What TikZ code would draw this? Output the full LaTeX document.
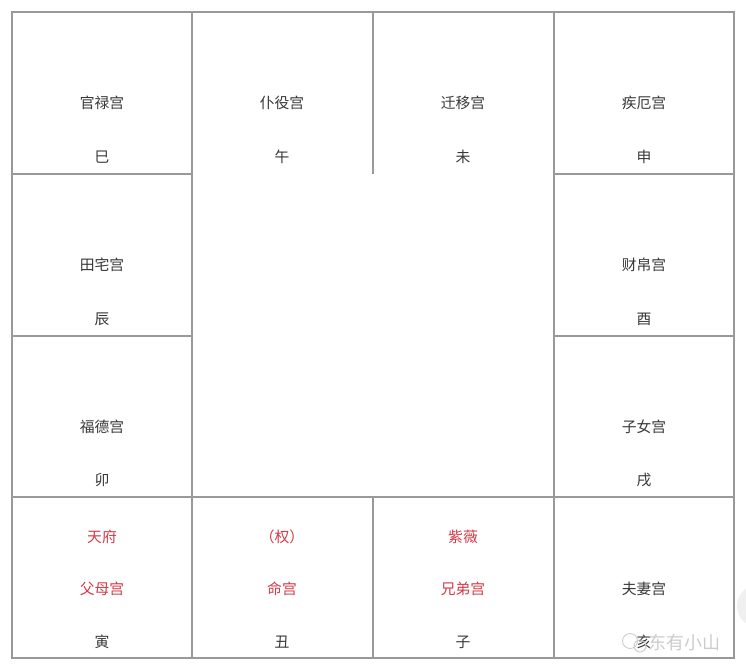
\documentclass[tikz,border=0pt]{standalone}
\usepackage{fontspec}
\setmainfont{Noto Sans CJK SC}
\definecolor{softred}{HTML}{D23A46}
\begin{document}
\begin{tikzpicture}[x=1pt,y=-1pt,
  gridline/.style={draw=black!40,line width=1.1pt},
  lbl/.style={font=\fontsize{14.8}{17}\selectfont,text=black!78,inner sep=0pt},
  redlbl/.style={lbl,text=softred},
  wm/.style={font=\fontsize{18}{20}\selectfont,text=black!20,inner sep=0pt}]
\useasboundingbox (0,0) rectangle (746,667);
\fill[white] (0,0) rectangle (746,667);
\begin{scope}
\clip (0,0) rectangle (746,667);
\fill[black!6] (758,606) circle (21);
\end{scope}
% grid
\draw[gridline] (12,12) rectangle (734,658);
\draw[gridline] (192,12) -- (192,174);
\draw[gridline] (373,12) -- (373,174);
\draw[gridline] (554,12) -- (554,658);
\draw[gridline] (192,174) -- (192,658);
\draw[gridline] (373,497) -- (373,658);
\draw[gridline] (12,174) -- (192,174);
\draw[gridline] (554,174) -- (734,174);
\draw[gridline] (12,336) -- (192,336);
\draw[gridline] (554,336) -- (734,336);
\draw[gridline] (12,497) -- (734,497);
% top row
\node[lbl] (p1) at (102,103) {官禄宫};
\node[lbl] (b1) at (102,157) {巳};
\node[lbl] (p2) at (282,103) {仆役宫};
\node[lbl] (b2) at (282,157) {午};
\node[lbl] (p3) at (463,103) {迁移宫};
\node[lbl] (b3) at (463,157) {未};
\node[lbl] (p4) at (644,103) {疾厄宫};
\node[lbl] (b4) at (644,157) {申};
% side rows
\node[lbl] (p5) at (102,265) {田宅宫};
\node[lbl] (b5) at (102,319) {辰};
\node[lbl] (p6) at (644,265) {财帛宫};
\node[lbl] (b6) at (644,319) {酉};
\node[lbl] (p7) at (102,427) {福德宫};
\node[lbl] (b7) at (102,480) {卯};
\node[lbl] (p8) at (644,427) {子女宫};
\node[lbl] (b8) at (644,480) {戌};
% bottom row
\node[redlbl] (s9) at (102,537) {天府};
\node[redlbl] (p9) at (102,589) {父母宫};
\node[lbl] (b9) at (102,642) {寅};
\node[redlbl] (s10) at (282,537) {（权）};
\node[redlbl] (p10) at (282,589) {命宫};
\node[lbl] (b10) at (282,642) {丑};
\node[redlbl] (s11) at (463,537) {紫薇};
\node[redlbl] (p11) at (463,589) {兄弟宫};
\node[lbl] (b11) at (463,642) {子};
\node[lbl] (p12) at (644,589) {夫妻宫};
\node[lbl] (b12) at (644,642) {亥};
% watermark
\node[wm,anchor=west] (wmt) at (648,643) {东有小山};
\draw[black!20,line width=0.9pt] (630,641) circle (7.5);
\draw[black!20,line width=0.9pt] (640,646) circle (6);
\end{tikzpicture}
\end{document}
